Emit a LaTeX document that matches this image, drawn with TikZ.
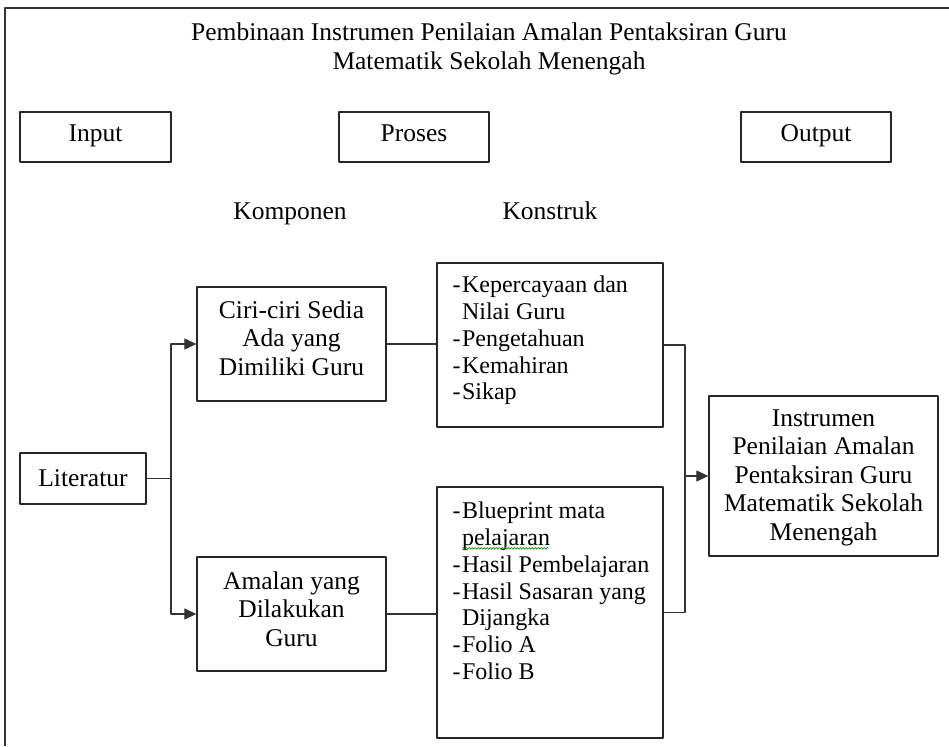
\documentclass[tikz,border=0pt]{standalone}
\usepackage{fontspec}
\setmainfont{Liberation Serif}
\usetikzlibrary{arrows.meta,decorations.pathmorphing}
\newcommand{\baris}[2]{\parbox[t]{#1}{\centering #2}}
\begin{document}
\begin{tikzpicture}[x=1pt, y=-1pt, line join=round, >={Triangle[length=12pt,width=11pt]},
		font=\fontsize{25.5}{29}\selectfont]
	\tikzset{every node/.style={inner sep=0pt},
		box/.style={draw=black!85, line width=1.3pt, align=center},
		tag/.style={box, minimum width=150pt, minimum height=50pt, text height=17pt, text depth=7pt},
		ctext/.style={text height=20pt, text depth=#1, font=\fontsize{25.5}{28.5}\selectfont},
		list/.style={align=left, anchor=north west, font=\fontsize{24}{26.8}\selectfont},
		link/.style={draw=black!80, line width=1.2pt}}
	\def\dash{-\kern1.5pt}
	\useasboundingbox (0,0) rectangle (949,746);
	% bingkai luar
	\draw[black!80, line width=1.4pt] (5,746) -- (5,8) -- (949,8);
	% tajuk
	\node[align=center] (tajuk) at (489,49)
		{Pembinaan Instrumen Penilaian Amalan Pentaksiran Guru\\Matematik Sekolah Menengah};
	\node[tag, minimum width=151pt] (input) at (95.5,137) {Input};
	\node[tag] (proses) at (414,137) {Proses};
	\node[tag] (output) at (816,137) {Output};
	\node[anchor=base] (komponen) at (290,219) {Komponen};
	\node[anchor=base] (konstruk) at (550,219) {Konstruk};
	% komponen
	\node[box, minimum width=126pt, minimum height=51pt] (lit) at (83,478.5) {Literatur};
	\node[box, ctext=72pt, minimum width=189pt, minimum height=114pt] (ciri) at (291.5,344)
		{\baris{189pt}{Ciri-ciri Sedia\\Ada yang\\Dimiliki Guru}};
	\node[box, ctext=70pt, minimum width=189pt, minimum height=114pt] (amalan) at (291.5,614)
		{\baris{189pt}{Amalan yang\\Dilakukan\\Guru}};
	% konstruk
	\node[box, minimum width=226pt, minimum height=164pt] (k1) at (550,345) {};
	\node[list] (k1txt) at ([shift={(16,13.5)}]k1.north west)
		{\dash Kepercayaan dan\\\hspace*{9.5pt}Nilai Guru\\\dash Pengetahuan\\\dash Kemahiran\\\dash Sikap};
	\node[box, minimum width=226pt, minimum height=251pt] (k2) at (550,612.5) {};
	\node[list] (k2txt) at ([shift={(16,15.5)}]k2.north west)
		{\dash Blueprint mata\\\hspace*{9.5pt}pelajaran\\\dash Hasil Pembelajaran\\\dash Hasil Sasaran yang\\\hspace*{9.5pt}Dijangka\\\dash Folio A\\\dash Folio B};
	\draw[green!55!black, line width=0.6pt, decorate, decoration={snake, amplitude=0.9pt, segment length=3pt}]
		([shift={(26,62)}]k2.north west) -- ++(86,0);
	% output
	\node[box, ctext=120pt, minimum width=229pt, minimum height=160pt] (instr) at (823.5,476)
		{\baris{229pt}{Instrumen\\Penilaian Amalan\\Pentaksiran Guru\\Matematik Sekolah\\Menengah}};
	% penyambung
	\coordinate (splitL) at (171,478.5);
	\coordinate (joinR) at (685,476);
	\draw[link] (lit.east) -- (splitL);
	\draw[link, ->] (splitL) |- (ciri.west);
	\draw[link, ->] (splitL) |- (amalan.west);
	\draw[link] (ciri.east) -- (ciri.east -| k1.west);
	\draw[link] (amalan.east) -- (amalan.east -| k2.west);
	\draw[link] (k1.east) -| (joinR);
	\draw[link] (k2.east) -| (joinR);
	\draw[link, ->] (joinR) -- (instr.west);
\end{tikzpicture}
\end{document}
